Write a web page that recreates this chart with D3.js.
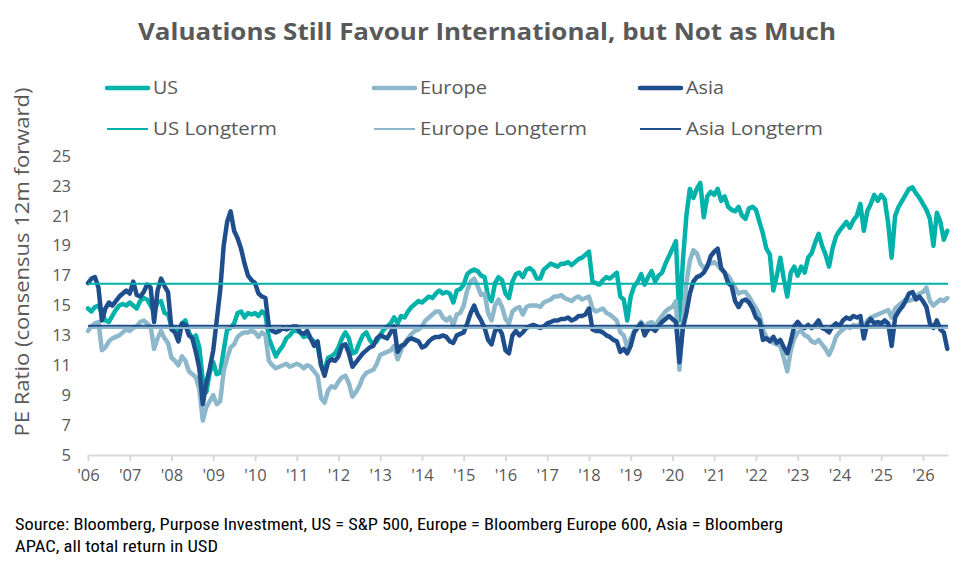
<!DOCTYPE html>
<html>
<head>
<meta charset="utf-8">
<script src="https://cdn.jsdelivr.net/npm/d3@7/dist/d3.min.js"></script>
<style>
  html, body { margin: 0; padding: 0; background: #fff; }
  svg { display: block; }
</style>
</head>
<body>
<svg id="chart" width="975" height="571"></svg>
<script>
// ---------- DATA (monthly, Jan '06 onwards) ----------
const startYear = 2006;
const endYear = 2026.6;
const yearTicks = ["'06","'07","'08","'09","'10","'11","'12","'13","'14","'15","'16","'17","'18","'19","'20","'21","'22","'23","'24","'25","'26"];
const yTicks = [5,7,9,11,13,15,17,19,21,23,25];

const usPE = [
  14.8,14.6,14.9,15.0,14.5,14.0,13.9,14.3,14.7,15.0,15.1,15.0,
  15.2,15.0,14.8,15.3,15.5,15.4,15.0,14.6,15.2,15.3,14.5,14.4,
  13.6,13.5,13.2,13.8,14.0,13.2,12.8,13.0,12.2,10.0,9.2,10.5,
  11.2,10.4,10.5,12.0,13.4,13.5,13.8,14.5,14.6,14.2,14.5,14.4,
  14.5,14.3,14.6,14.4,12.8,12.2,11.6,12.0,12.3,12.8,13.0,13.3,
  13.3,13.2,12.9,13.0,12.8,12.6,12.3,11.0,10.7,11.5,11.6,11.8,
  12.2,12.8,13.2,12.8,11.8,11.9,12.5,13.0,13.2,12.7,12.4,12.6,
  13.0,13.4,13.6,13.8,14.2,13.8,14.3,14.2,14.6,14.9,15.1,15.3,
  15.2,15.4,15.6,15.5,15.8,16.0,15.8,15.9,15.8,15.2,16.0,16.1,
  16.4,17.1,17.3,17.4,17.3,17.0,16.9,15.6,15.3,16.5,16.9,16.7,
  15.8,15.5,16.6,17.1,17.2,16.9,17.4,17.5,17.3,16.8,16.8,17.4,
  17.6,17.8,17.7,17.6,17.8,17.8,17.9,17.7,17.9,18.1,18.2,18.4,
  18.6,16.6,16.5,16.4,16.7,16.9,16.8,17.0,17.2,15.6,15.4,14.0,
  15.6,16.3,16.6,17.1,16.4,16.9,17.3,16.6,17.0,17.2,17.8,18.3,
  18.8,19.3,14.0,18.0,21.0,22.8,22.2,22.8,23.2,20.9,22.3,22.6,
  22.4,22.8,22.0,22.3,21.6,21.4,21.3,21.6,21.0,20.8,21.5,21.6,
  21.4,20.6,19.8,18.8,18.4,16.0,17.0,18.2,16.8,15.6,17.2,17.6,
  17.0,17.6,17.2,18.2,18.5,19.2,19.8,19.0,18.4,17.6,18.8,19.6,
  20.0,20.3,20.6,20.2,20.7,21.0,21.8,20.0,21.3,21.8,22.4,22.0,
  22.4,22.1,20.5,18.2,21.0,21.6,22.0,22.4,22.8,22.9,22.5,22.2,
  21.8,21.4,20.8,19.0,21.2,20.6,19.4,20.0
];

const europePE = [
  13.3,13.6,13.8,13.9,12.0,12.2,12.6,12.8,12.9,13.0,13.2,13.4,
  13.3,13.5,13.6,13.9,14.0,13.8,13.6,12.1,12.8,13.3,12.8,12.5,
  11.5,11.3,11.0,11.6,11.3,10.6,10.4,10.2,9.4,7.3,8.2,8.6,
  9.0,8.4,8.6,10.6,11.5,12.2,12.4,12.9,13.1,13.2,13.2,13.3,
  13.2,12.9,13.2,13.0,11.3,11.0,10.8,10.9,11.0,11.1,10.9,11.0,
  11.1,11.0,10.8,11.0,10.9,10.6,10.3,8.8,8.5,9.3,9.6,9.5,
  9.9,10.2,10.3,9.8,8.9,9.2,9.6,10.2,10.5,10.6,10.7,11.1,
  11.7,11.8,11.9,12.0,12.3,11.4,12.0,12.5,12.8,13.1,13.3,13.4,
  13.6,14.0,14.2,14.4,14.6,14.6,14.2,14.0,14.2,13.7,14.4,14.5,
  15.0,16.0,16.6,16.8,16.3,15.7,15.8,14.5,14.0,15.0,15.4,14.9,
  14.1,13.8,14.6,14.8,14.9,14.4,14.9,15.0,15.0,15.0,14.9,15.2,
  15.3,15.4,15.6,15.6,15.7,15.5,15.4,15.3,15.5,15.6,15.4,15.5,
  15.6,14.8,14.6,14.7,14.8,14.5,14.4,14.2,14.0,13.2,13.0,12.2,
  12.8,13.3,13.6,13.9,13.5,13.8,13.9,13.6,14.0,14.3,14.6,14.8,
  14.9,15.3,10.7,14.0,16.5,18.0,18.7,18.5,17.8,17.5,17.7,17.8,
  17.9,17.7,17.4,17.2,17.0,16.6,16.2,15.8,15.9,15.9,15.6,15.2,
  14.8,14.4,13.4,12.9,12.7,12.5,12.4,12.3,11.5,10.6,12.0,12.8,
  13.2,13.3,13.0,12.9,12.6,12.5,12.7,12.4,12.1,11.7,12.2,12.9,
  13.2,13.4,13.6,13.5,13.7,13.6,13.8,13.4,14.0,14.2,14.3,14.4,
  14.5,14.6,14.7,14.2,14.8,15.0,15.2,15.4,15.3,15.4,15.6,15.8,
  15.9,16.2,15.3,15.0,15.2,15.4,15.3,15.5
];

const asiaPE = [
  16.5,16.8,16.9,16.2,14.0,14.8,15.2,15.0,15.3,15.6,15.8,16.0,
  15.8,16.6,15.7,15.6,15.9,16.4,16.2,13.9,16.0,16.8,16.3,15.9,
  13.4,13.2,12.6,13.8,13.7,13.0,12.8,11.9,10.8,8.4,9.8,10.8,
  12.0,14.0,16.0,19.0,20.6,21.3,20.0,19.5,18.8,17.8,17.0,16.7,
  16.5,15.8,15.6,15.5,13.6,13.3,13.2,13.3,13.5,13.4,13.5,13.6,
  13.6,13.2,13.1,13.3,12.8,12.3,12.6,11.0,10.3,11.2,11.4,11.3,
  11.6,12.3,12.4,11.8,10.9,11.2,11.5,11.8,12.0,12.2,12.3,12.8,
  13.0,12.9,12.8,13.2,13.6,11.9,12.3,12.4,12.7,12.8,12.7,12.6,
  12.2,12.3,12.6,12.8,12.9,12.9,13.0,12.9,12.6,12.5,13.0,13.1,
  13.2,13.8,14.5,15.0,14.4,14.0,13.5,12.7,12.4,13.3,13.5,13.1,
  12.0,11.8,13.0,13.3,13.0,13.2,13.5,13.6,13.7,13.6,13.5,13.6,
  13.8,13.9,14.0,14.0,14.1,14.1,14.2,14.0,14.1,14.3,14.3,14.4,
  14.8,13.4,13.3,13.3,13.2,13.0,12.9,12.7,12.6,11.9,12.1,11.8,
  12.3,13.2,13.5,13.8,13.0,13.4,13.5,13.3,13.6,13.9,14.1,14.3,
  14.1,13.9,11.2,13.5,14.5,15.8,16.6,16.9,17.0,17.2,17.6,18.3,
  18.6,18.8,17.5,17.2,16.5,16.3,15.3,14.9,15.3,15.4,15.2,14.8,
  14.2,14.0,12.7,12.8,12.6,12.9,12.5,12.7,12.2,11.8,12.6,13.6,
  13.9,13.6,13.5,13.7,13.5,13.7,14.0,13.5,13.4,13.2,13.6,13.8,
  13.6,14.0,14.2,14.1,14.3,14.2,14.3,12.8,13.8,14.1,13.8,13.9,
  13.8,14.0,13.8,12.3,14.2,14.6,14.9,15.3,15.8,15.9,15.4,15.6,
  15.3,14.9,13.8,13.5,14.0,13.4,13.2,12.1
];

const usLongterm = 16.45;
const europeLongterm = 13.5;
const asiaLongterm = 13.65;

const seriesNames = ["US", "Europe", "Asia"];
const longtermNames = ["US Longterm", "Europe Longterm", "Asia Longterm"];

// ---------- STYLE ----------
const colors = { US: "#00B2A9", Europe: "#8DB7CA", Asia: "#1F4E8D" };
const textGrey = "#595959";
const font = "'Open Sans', 'DejaVu Sans', sans-serif";

const svg = d3.select("#chart");
const x = d3.scaleLinear().domain([startYear, endYear]).range([88, 948]);
const y = d3.scaleLinear().domain([5, 25]).range([455, 156]);

// Title
svg.append("text")
  .attr("x", 138).attr("y", 40)
  .attr("font-family", font)
  .attr("font-weight", "bold")
  .attr("font-size", 24)
  .attr("fill", textGrey)
  .attr("textLength", 698).attr("lengthAdjust", "spacingAndGlyphs")
  .text("Valuations Still Favour International, but Not as Much");

// Y axis label
svg.append("text")
  .attr("transform", "translate(29,262) rotate(-90)")
  .attr("text-anchor", "middle")
  .attr("font-family", font)
  .attr("font-size", 20)
  .attr("fill", textGrey)
  .attr("textLength", 349).attr("lengthAdjust", "spacingAndGlyphs")
  .text("PE Ratio (consensus 12m forward)");

// Y axis (labels only)
const yAxis = d3.axisLeft(y).tickValues(yTicks).tickSize(0).tickPadding(0);
const gy = svg.append("g").attr("transform", "translate(71,0)").call(yAxis);
gy.select(".domain").remove();
gy.selectAll("text")
  .attr("font-family", font).attr("font-size", 16.5).attr("fill", textGrey);

// X axis
const xTickVals = yearTicks.map((d, i) => startYear + i);
const xAxis = d3.axisBottom(x).tickValues(xTickVals)
  .tickFormat((d, i) => yearTicks[i]).tickSize(6).tickSizeOuter(0).tickPadding(8);
const gx = svg.append("g").attr("transform", "translate(0,455)").call(xAxis);
gx.select(".domain").attr("stroke", "#D9D9D9").attr("stroke-width", 2);
gx.selectAll(".tick line").attr("stroke", "#D9D9D9").attr("stroke-width", 2);
gx.selectAll("text")
  .attr("font-family", font).attr("font-size", 16.5).attr("fill", textGrey);

// Lines
const dataByName = { US: usPE, Europe: europePE, Asia: asiaPE };
const line = d3.line()
  .x((d, i) => x(startYear + i / 12))
  .y(d => y(d))
  .curve(d3.curveLinear);

const plot = svg.append("g");
seriesNames.forEach(name => {
  plot.append("path")
    .datum(dataByName[name])
    .attr("fill", "none")
    .attr("stroke", colors[name])
    .attr("stroke-width", 4.5)
    .attr("stroke-linejoin", "round")
    .attr("stroke-linecap", "round")
    .attr("d", line);
});

const longVals = { US: usLongterm, Europe: europeLongterm, Asia: asiaLongterm };
seriesNames.forEach(name => {
  plot.append("line")
    .attr("x1", x(startYear)).attr("x2", x(endYear))
    .attr("y1", y(longVals[name])).attr("y2", y(longVals[name]))
    .attr("stroke", colors[name]).attr("stroke-width", 2);
});

// Legend
const legendX = [107, 374, 640];
const legendRows = [88, 129];
const legendWidths = [[25, 124], [67, 167], [38, 137]];
const legend = svg.append("g");
seriesNames.forEach((name, i) => {
  [0, 1].forEach(r => {
    const ly = legendRows[r];
    legend.append("line")
      .attr("x1", legendX[i]).attr("x2", legendX[i] + 41)
      .attr("y1", ly).attr("y2", ly)
      .attr("stroke", colors[name])
      .attr("stroke-width", r === 0 ? 4.5 : 2)
      .attr("stroke-linecap", r === 0 ? "round" : "butt");
    legend.append("text")
      .attr("x", legendX[i] + 46).attr("y", ly)
      .attr("dy", "0.35em")
      .attr("font-family", font).attr("font-size", 18).attr("fill", textGrey)
      .attr("textLength", legendWidths[i][r]).attr("lengthAdjust", "spacingAndGlyphs")
      .text(r === 0 ? name : longtermNames[i]);
  });
});

// Source note
const srcFont = "'Liberation Sans Narrow', 'Roboto Condensed', 'Arial Narrow', sans-serif";
const sourceLines = [
  "Source: Bloomberg, Purpose Investment, US = S&P 500, Europe = Bloomberg Europe 600, Asia = Bloomberg",
  "APAC, all total return in USD"
];
const sourceWidths = [768, 203];
sourceLines.forEach((t, i) => {
  svg.append("text")
    .attr("x", 15).attr("y", 530 + i * 22)
    .attr("font-family", srcFont).attr("font-size", 16).attr("fill", "#000")
    .attr("textLength", sourceWidths[i]).attr("lengthAdjust", "spacingAndGlyphs")
    .text(t);
});
</script>
</body>
</html>
